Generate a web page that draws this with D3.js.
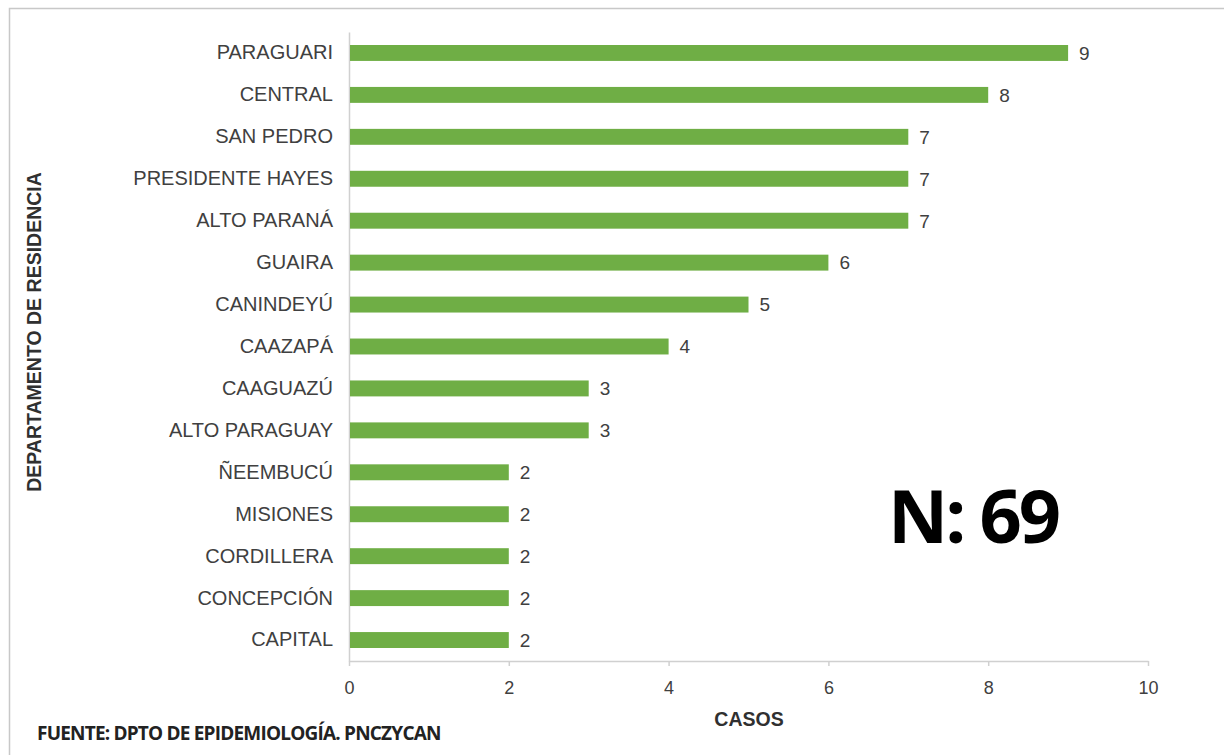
<!DOCTYPE html>
<html>
<head>
<meta charset="utf-8">
<script src="https://cdn.jsdelivr.net/npm/d3@7"></script>
<style>
  body { margin: 0; background: #fff; }
  svg { display: block; }
</style>
</head>
<body>
<svg id="canvas" width="1224" height="755"></svg>
<script>
let departamentos = ['PARAGUARI', 'CENTRAL', 'SAN PEDRO', 'PRESIDENTE HAYES', 'ALTO PARANÁ', 'GUAIRA',
  'CANINDEYÚ', 'CAAZAPÁ', 'CAAGUAZÚ', 'ALTO PARAGUAY', 'ÑEEMBUCÚ', 'MISIONES', 'CORDILLERA',
  'CONCEPCIÓN', 'CAPITAL']
let casos = [9, 8, 7, 7, 7, 6, 5, 4, 3, 3, 2, 2, 2, 2, 2]
let xTicks = [0, 2, 4, 6, 8, 10]

let canvas = d3.select('#canvas')
let font = 'Liberation Sans, Arial, sans-serif'

// frame of the original picture
canvas.append('path')
  .attr('d', 'M9.5,760 V8.5 H1230')
  .attr('fill', 'none')
  .attr('stroke', '#c8c8c8')
  .attr('stroke-width', 1.5)

let xScale = d3.scaleLinear().domain([0, 10]).range([349, 1148])
let yScale = d3.scaleBand().domain(departamentos).range([32, 661]).paddingInner(0.62).paddingOuter(0.31)

let xAxis = d3.axisBottom(xScale).tickValues(xTicks).tickSize(5).tickSizeOuter(0)
let xg = canvas.append('g').attr('transform', 'translate(0,661)').call(xAxis)
xg.select('.domain').attr('stroke', '#d0d0d0').attr('stroke-width', 1.5)
xg.selectAll('.tick line').attr('stroke', '#d0d0d0').attr('stroke-width', 1.5)
xg.selectAll('.tick text')
  .attr('dy', 0).attr('y', 33)
  .style('font-family', font)
  .style('font-size', '18px')
  .attr('fill', '#404040')

let yAxis = d3.axisLeft(yScale).tickSize(0).tickPadding(16)
let yg = canvas.append('g').attr('transform', 'translate(349,0)').call(yAxis)
yg.select('.domain').attr('stroke', '#d0d0d0').attr('stroke-width', 1.5)
yg.selectAll('.tick text')
  .style('font-family', font)
  .style('font-size', '20px')
  .attr('fill', '#404040')

canvas.selectAll('rect.bar')
  .data(departamentos)
  .enter()
  .append('rect')
  .attr('class', 'bar')
  .attr('x', xScale(0) + 1)
  .attr('y', (d) => yScale(d))
  .attr('width', (d, i) => xScale(casos[i]) - xScale(0) - 1)
  .attr('height', yScale.bandwidth())
  .attr('fill', '#6fae45')

canvas.selectAll('text.valor')
  .data(departamentos)
  .enter()
  .append('text')
  .attr('class', 'valor')
  .attr('x', (d, i) => xScale(casos[i]) + 11)
  .attr('y', (d) => yScale(d) + yScale.bandwidth() / 2)
  .attr('dy', '0.36em')
  .style('font-family', font)
  .style('font-size', '19px')
  .attr('fill', '#404040')
  .text((d, i) => casos[i])

canvas.append('text')
  .attr('transform', 'translate(41,332) rotate(-90)')
  .attr('text-anchor', 'middle')
  .style('font-family', font)
  .style('font-size', '19.5px')
  .style('font-weight', 'bold')
  .attr('fill', '#303030')
  .text('DEPARTAMENTO DE RESIDENCIA')

canvas.append('text')
  .attr('x', 749)
  .attr('y', 726)
  .attr('text-anchor', 'middle')
  .style('font-family', font)
  .style('font-size', '19.5px')
  .style('font-weight', 'bold')
  .attr('fill', '#303030')
  .text('CASOS')

canvas.append('text')
  .attr('x', 37)
  .attr('y', 740)
  .style('font-family', 'Open Sans, sans-serif')
  .style('font-size', '19px')
  .style('font-weight', 'bold')
  .style('letter-spacing', '-0.8px')
  .attr('fill', '#222')
  .text('FUENTE: DPTO DE EPIDEMIOLOGÍA. PNCZYCAN')

canvas.append('text')
  .attr('x', 888)
  .attr('y', 543)
  .style('font-family', 'Open Sans, sans-serif')
  .style('font-size', '74px')
  .style('font-weight', 'bold')
  .style('letter-spacing', '-3px')
  .attr('fill', '#000')
  .text('N: 69')
</script>
</body>
</html>
